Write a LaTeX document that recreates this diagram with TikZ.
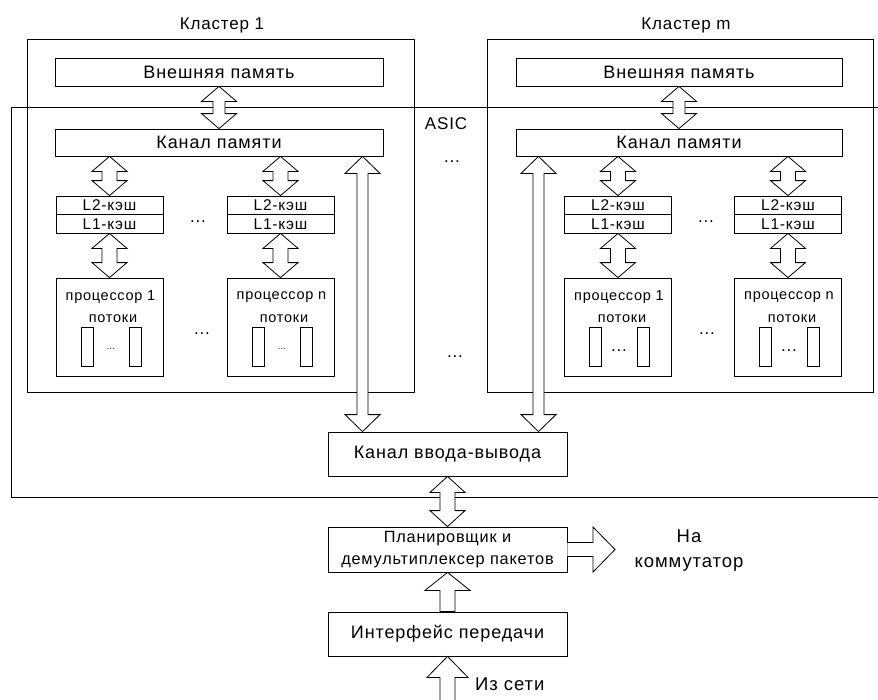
\documentclass[tikz,border=0pt]{standalone}
\usepackage{fontspec}
\setmainfont{Liberation Sans}[LetterSpace=5]
\usetikzlibrary{calc}
\tikzset{
  lw/.style={line width=0.8pt},
  box/.style={draw, lw, inner sep=0pt, font=\fontsize{18}{21}\selectfont},
  lbox/.style={draw, lw, inner sep=0pt, minimum width=107pt, minimum height=18.5pt, font=\fontsize{15.5}{17}\selectfont},
  pbox/.style={draw, lw, inner sep=0pt, minimum width=107pt, minimum height=98pt},
  thr/.style={draw, lw, inner sep=0pt, minimum width=12pt, minimum height=39pt},
  lbl/.style={inner sep=0pt, font=\fontsize{17}{20}\selectfont},
  plbl/.style={inner sep=0pt, font=\fontsize{14.5}{17}\selectfont},
  arr/.style={draw, lw, fill=white, line join=miter},
}
% vertical double block arrow: #1 top tip, #2 bottom tip, #3 head half width, #4 shaft half width, #5 head length
\newcommand\dblarr[5]{%
  \path[arr] let \p1=(#1), \p2=(#2) in
    (\x1,\y1) -- (\x1+#3pt,\y1-#5pt) -- (\x1+#4pt,\y1-#5pt) -- (\x1+#4pt,\y2+#5pt)
    -- (\x1+#3pt,\y2+#5pt) -- (\x1,\y2) -- (\x1-#3pt,\y2+#5pt) -- (\x1-#4pt,\y2+#5pt)
    -- (\x1-#4pt,\y1-#5pt) -- (\x1-#3pt,\y1-#5pt) -- cycle;}
% vertical single block arrow pointing up: #1 tip, #2 tail
\newcommand\uparr[5]{%
  \path[arr] let \p1=(#1), \p2=(#2) in
    (\x1,\y1) -- (\x1+#3pt,\y1-#5pt) -- (\x1+#4pt,\y1-#5pt) -- (\x1+#4pt,\y2)
    -- (\x1-#4pt,\y2) -- (\x1-#4pt,\y1-#5pt) -- (\x1-#3pt,\y1-#5pt) -- cycle;}
\begin{document}
\begin{tikzpicture}[x=1pt,y=1pt]
\useasboundingbox (0,0) rectangle (878,-699);

% ASIC outline (open to the right)
\draw[lw] (880,-107) -- (11,-107) -- (11,-497) -- (880,-497);
\node[lbl] (asic) at (446,-124) {ASIC};
\node[lbl] (dt1) at (452,-162) {...};
\node[lbl] (dt2) at (455,-357) {...};

% Clusters
\node[draw, lw, minimum width=387pt, minimum height=353pt, inner sep=0pt] (cl1) at (220.5,-215.5) {};
\node[draw, lw, minimum width=386pt, minimum height=353pt, inner sep=0pt] (clm) at (680,-215.5) {};
\node[lbl] (t1) at (222,-25) {Кластер 1};
\node[lbl] (tm) at (686,-25) {Кластер m};

% Cluster 1 contents
\node[box, minimum width=328pt, minimum height=28pt] (ext1) at (219,-72) {Внешняя память};
\node[box, minimum width=328pt, minimum height=27pt] (ch1) at (219,-142.5) {Канал памяти};
\node[lbox] (l2a) at (109.5,-205.25) {L2-кэш};
\node[lbox] (l1a) at (109.5,-223.75) {L1-кэш};
\node[lbox] (l2b) at (280.5,-205.25) {L2-кэш};
\node[lbox] (l1b) at (280.5,-223.75) {L1-кэш};
\node[lbl] (d1) at (198,-222) {...};
\node[pbox] (pa) at (109.5,-327) {};
\node[pbox] (pb) at (280.5,-327) {};
\node[plbl] (pat) at (110.5,-297) {процессор 1};
\node[plbl] (pas) at (113,-319) {потоки};
\node[plbl] (pbt) at (281.5,-297) {процессор n};
\node[plbl] (pbs) at (284,-319) {потоки};
\node[thr] (ta1) at (87,-346.5) {};
\node[thr] (ta2) at (135,-346.5) {};
\node[inner sep=0pt, font=\fontsize{9}{10}\selectfont] (tad) at (111,-349) {...};
\node[thr] (tb1) at (258,-346.5) {};
\node[thr] (tb2) at (306,-346.5) {};
\node[inner sep=0pt, font=\fontsize{9}{10}\selectfont] (tbd) at (282,-349) {...};
\node[lbl] (d2) at (202,-334) {...};

% Cluster m contents
\node[box, minimum width=326pt, minimum height=28pt] (extm) at (679,-72) {Внешняя память};
\node[box, minimum width=326pt, minimum height=27pt] (chm) at (679,-142.5) {Канал памяти};
\node[lbox] (l2c) at (618,-205.25) {L2-кэш};
\node[lbox] (l1c) at (618,-223.75) {L1-кэш};
\node[lbox] (l2d) at (788,-205.25) {L2-кэш};
\node[lbox] (l1d) at (788,-223.75) {L1-кэш};
\node[lbl] (d3) at (706,-222) {...};
\node[pbox] (pc) at (618,-327) {};
\node[pbox] (pd) at (788,-327) {};
\node[plbl] (pct) at (619,-297) {процессор 1};
\node[plbl] (pcs) at (622,-319) {потоки};
\node[plbl] (pdt) at (789,-297) {процессор n};
\node[plbl] (pds) at (792,-319) {потоки};
\node[thr] (tc1) at (595,-346.5) {};
\node[thr] (tc2) at (643,-346.5) {};
\node[lbl] (tcd) at (619,-351) {...};
\node[thr] (td1) at (765,-346.5) {};
\node[thr] (td2) at (813,-346.5) {};
\node[lbl] (tdd) at (789,-351) {...};
\node[lbl] (d4) at (707,-334) {...};

% Lower chain
\node[box, minimum width=239pt, minimum height=44pt] (io) at (447.5,-454) {Канал ввода-вывода};
\node[box, minimum width=239pt, minimum height=45pt, align=center, font=\fontsize{16.3}{22}\selectfont] (sch) at (447.5,-549.5) {Планировщик и\\демультиплексер пакетов};
\node[box, minimum width=239pt, minimum height=44pt] (tx) at (447.5,-634) {Интерфейс передачи};
\node[lbl, align=center, font=\fontsize{18.5}{25}\selectfont] (sw) at (689,-551) {На\\коммутатор};
\node[lbl, anchor=west, font=\fontsize{18.5}{21}\selectfont] (net) at (475,-684) {Из сети};

\coordinate (v1) at (362.5,0);
\coordinate (vm) at (538.5,0);
\coordinate (swtip) at (615,-549.5);
\coordinate (netin) at (447.5,-702);

% Arrows
\dblarr{ext1.south}{ch1.north}{17.5}{6}{15}
\dblarr{extm.south}{chm.north}{17.5}{6}{15}
\dblarr{l2a.north |- ch1.south}{l2a.north}{17.5}{7.5}{15}
\dblarr{l2b.north |- ch1.south}{l2b.north}{17.5}{7.5}{15}
\dblarr{l2c.north |- chm.south}{l2c.north}{17.5}{7.5}{15}
\dblarr{l2d.north |- chm.south}{l2d.north}{17.5}{7.5}{15}
\dblarr{l1a.south}{pa.north}{17.5}{7.5}{15}
\dblarr{l1b.south}{pb.north}{17.5}{7.5}{15}
\dblarr{l1c.south}{pc.north}{17.5}{7.5}{15}
\dblarr{l1d.south}{pd.north}{17.5}{7.5}{15}
\dblarr{v1 |- ch1.south}{v1 |- io.north}{17.5}{5.5}{17}
\dblarr{vm |- chm.south}{vm |- io.north}{17.5}{5.5}{17}
\dblarr{io.south}{sch.north}{17.5}{7.5}{16}
\uparr{sch.south}{tx.north}{22.5}{7.5}{18}
\uparr{tx.south}{netin}{20.5}{7.5}{21}
\path[arr] let \p1=(sch.east), \p2=(swtip) in
  (\x1,\y1+7pt) -- (\x2-22pt,\y1+7pt) -- (\x2-22pt,\y1+22.5pt) -- (\x2,\y2)
  -- (\x2-22pt,\y1-22.5pt) -- (\x2-22pt,\y1-7pt) -- (\x1,\y1-7pt);
\end{tikzpicture}
\end{document}
